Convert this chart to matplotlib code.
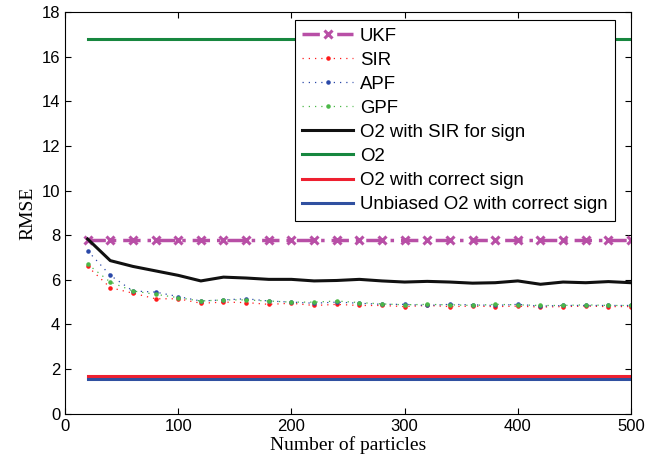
import numpy as np
import matplotlib
matplotlib.use('Agg')
from matplotlib import pyplot as plt

plt.rcParams['font.family'] = ['Liberation Sans', 'DejaVu Sans']

# 粒子数
particles = np.arange(20, 501, 20)

ukf = [7.8] * 25
sir = [6.6, 5.65, 5.4, 5.15, 5.15, 4.95, 5.0, 4.98, 4.9, 4.95, 4.85, 4.9, 4.85,
       4.85, 4.8, 4.85, 4.8, 4.82, 4.8, 4.82, 4.78, 4.8, 4.82, 4.8, 4.8]
apf = [7.3, 6.2, 5.5, 5.45, 5.25, 5.05, 5.1, 5.15, 5.05, 5.0, 4.95, 5.0, 4.95,
       4.9, 4.9, 4.85, 4.9, 4.88, 4.85, 4.9, 4.82, 4.85, 4.85, 4.85, 4.85]
gpf = [6.7, 5.9, 5.5, 5.35, 5.2, 5.05, 5.1, 5.1, 5.05, 5.0, 5.0, 5.05, 4.98,
       4.92, 4.88, 4.9, 4.88, 4.85, 4.9, 4.88, 4.85, 4.85, 4.88, 4.85, 4.85]
o2_sir = [7.83, 6.86, 6.6, 6.4, 6.2, 5.95, 6.12, 6.08, 6.02, 6.02, 5.95, 5.97, 6.02,
          5.95, 5.9, 5.93, 5.9, 5.85, 5.87, 5.95, 5.8, 5.9, 5.87, 5.92, 5.87]
o2 = [16.8] * 25
o2_correct = [1.7] * 25
o2_unbiased = [1.55] * 25

fig = plt.figure(figsize=(6.48, 4.67), dpi=100)
ax = fig.add_axes([0.1003, 0.1141, 0.8735, 0.8602])

ax.plot(particles, ukf, color='#B84FA6', lw=2.5, dashes=[5, 2, 1, 2],
        marker='x', ms=6, mew=2.2, label='UKF')
ax.plot(particles, sir, color='#FF1A1A', lw=0.9, dashes=[1, 4], marker='.', ms=4.5, label='SIR')
ax.plot(particles, apf, color='#2A48A8', lw=0.9, dashes=[1, 4], marker='.', ms=4.5, label='APF')
ax.plot(particles, gpf, color='#4CB848', lw=0.9, dashes=[1, 4], marker='.', ms=4.5, label='GPF')
ax.plot(particles, o2_sir, color='#111111', lw=2.2, label='O2 with SIR for sign')
ax.plot(particles, o2, color='#17873F', lw=2.2, label='O2')
ax.plot(particles, o2_correct, color='#EE2030', lw=2.2, label='O2 with correct sign')
ax.plot(particles, o2_unbiased, color='#3050A0', lw=2.2, label='Unbiased O2 with correct sign')

ax.set_xlim(0, 500)
ax.set_ylim(0, 18)
ax.set_xticks(range(0, 501, 100))
ax.set_yticks(range(0, 19, 2))
ax.tick_params(direction='in', top=True, right=True, labelsize=12, length=4)
ax.set_xlabel('Number of particles', family='Liberation Serif', fontsize=14, labelpad=2)
ax.set_ylabel('RMSE', family='Liberation Serif', fontsize=14, labelpad=4)

leg = ax.legend(loc='upper right', bbox_to_anchor=(0.972, 0.98), fontsize=13.4,
                fancybox=False, framealpha=1, edgecolor='black', borderaxespad=0,
                handlelength=2.7, handletextpad=0.4, labelspacing=0.38, borderpad=0.4)
leg.get_frame().set_linewidth(0.8)

plt.savefig('out.png')
